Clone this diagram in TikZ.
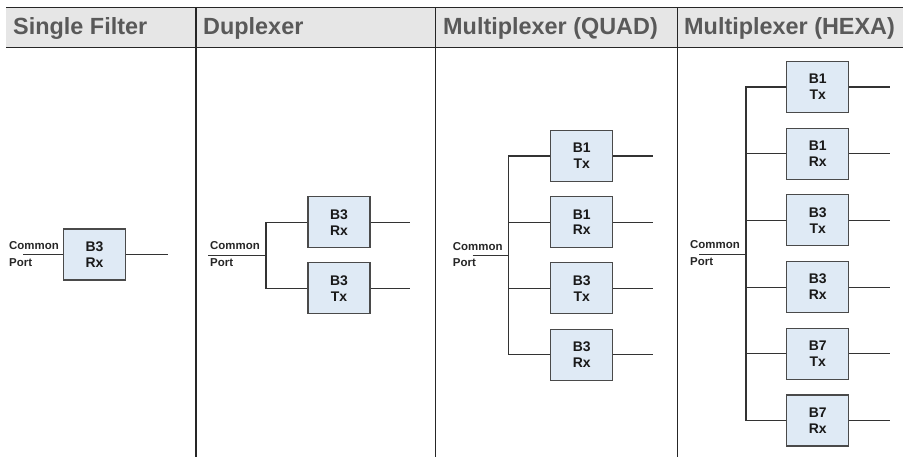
\documentclass[tikz,border=0pt]{standalone}
\usepackage{fontspec}
\setmainfont{Liberation Sans}
\begin{document}
\begin{tikzpicture}[x=1bp,y=-1bp,
  hdrtext/.style={anchor=base west,text=hdrgrey,inner sep=0pt,font=\fontsize{23.5}{26}\selectfont\bfseries},
  tabline/.style={draw=black!85,line width=1.2bp},
  filt/.style={draw=boxedge,fill=boxfill,line width=1.1bp,minimum width=62bp,minimum height=51bp,inner sep=0pt,align=center,font=\fontsize{14}{16}\selectfont\bfseries,text=black!90},
  cplabel/.style={anchor=base west,inner sep=0pt,font=\fontsize{11.5}{13}\selectfont\bfseries,text=black!85},
  wire/.style={draw=black!80,line width=1.1bp}]
\definecolor{hdrgrey}{HTML}{595959}
\definecolor{hdrfill}{HTML}{E6E6E6}
\definecolor{boxfill}{HTML}{DFEAF5}
\definecolor{boxedge}{HTML}{4A4A4A}
\useasboundingbox (0,0) rectangle (905,457);
% header
\fill[hdrfill] (6,7.5) rectangle (903,47.5);
\draw[tabline] (6,7.5) -- (903,7.5);
\draw[tabline] (6,47.5) -- (903,47.5);
\draw[tabline] (196,7.5) -- (196,457);
\draw[tabline] (435.7,7.5) -- (435.7,457);
\draw[tabline] (677.3,7.5) -- (677.3,457);
\node[hdrtext] (h1) at (13,35) {Single Filter};
\node[hdrtext] (h2) at (203,35) {Duplexer};
\node[hdrtext] (h3) at (443,35) {Multiplexer (QUAD)};
\node[hdrtext] (h4) at (684,35) {Multiplexer (HEXA)};
% single filter
\node[filt] (s1) at (94.5,254.5) {B3\\Rx};
\coordinate (sin) at (23,254.5);
\coordinate (sout) at (168,254.5);
\draw[wire] (sin) -- (s1.west);
\draw[wire] (s1.east) -- (sout);
\node[cplabel] (sc) at (9,249.2) {Common};
\node[cplabel] (sp) at (9,266.2) {Port};
% duplexer
\node[filt] (d1) at (339,222.3) {B3\\Rx};
\node[filt] (d2) at (339,288.3) {B3\\Tx};
\coordinate (dj) at (266,255.3);
\coordinate (din) at (208,255.3);
\coordinate (d1o) at (410,222.3);
\coordinate (d2o) at (410,288.3);
\draw[wire] (din) -- (dj);
\draw[wire] (d1.west) -| (dj);
\draw[wire] (d2.west) -| (dj);
\draw[wire] (d1.east) -- (d1o);
\draw[wire] (d2.east) -- (d2o);
\node[cplabel] (dc) at (210,250) {Common};
\node[cplabel] (dp) at (210,267) {Port};
% quad
\node[filt] (q1) at (581.7,156) {B1\\Tx};
\node[filt] (q2) at (581.7,222.2) {B1\\Rx};
\node[filt] (q3) at (581.7,288.4) {B3\\Tx};
\node[filt] (q4) at (581.7,354.6) {B3\\Rx};
\coordinate (qj) at (508.3,255.3);
\coordinate (qin) at (472.7,255.3);
\coordinate (q1o) at (653.3,156);
\coordinate (q2o) at (653.3,222.2);
\coordinate (q3o) at (653.3,288.4);
\coordinate (q4o) at (653.3,354.6);
\draw[wire] (qin) -- (qj);
\foreach \i in {1,2,3,4}{
  \draw[wire] (q\i.west) -| (qj);
  \draw[wire] (q\i.east) -- (q\i o);
}
\node[cplabel] (qc) at (452.7,250.3) {Common};
\node[cplabel] (qp) at (452.7,267) {Port};
% hexa
\node[filt] (x1) at (817.8,87) {B1\\Tx};
\node[filt] (x2) at (817.8,153.7) {B1\\Rx};
\node[filt] (x3) at (817.8,220.4) {B3\\Tx};
\node[filt] (x4) at (817.8,287.1) {B3\\Rx};
\node[filt] (x5) at (817.8,353.8) {B7\\Tx};
\node[filt] (x6) at (817.8,420.5) {B7\\Rx};
\coordinate (xj) at (746,254.3);
\coordinate (xin) at (699,254.3);
\coordinate (x1o) at (890,87);
\coordinate (x2o) at (890,153.7);
\coordinate (x3o) at (890,220.4);
\coordinate (x4o) at (890,287.1);
\coordinate (x5o) at (890,353.8);
\coordinate (x6o) at (890,420.5);
\draw[wire] (xin) -- (xj);
\foreach \i in {1,...,6}{
  \draw[wire] (x\i.west) -| (xj);
  \draw[wire] (x\i.east) -- (x\i o);
}
\node[cplabel] (xc) at (690,249) {Common};
\node[cplabel] (xp) at (690,266) {Port};
\end{tikzpicture}
\end{document}
